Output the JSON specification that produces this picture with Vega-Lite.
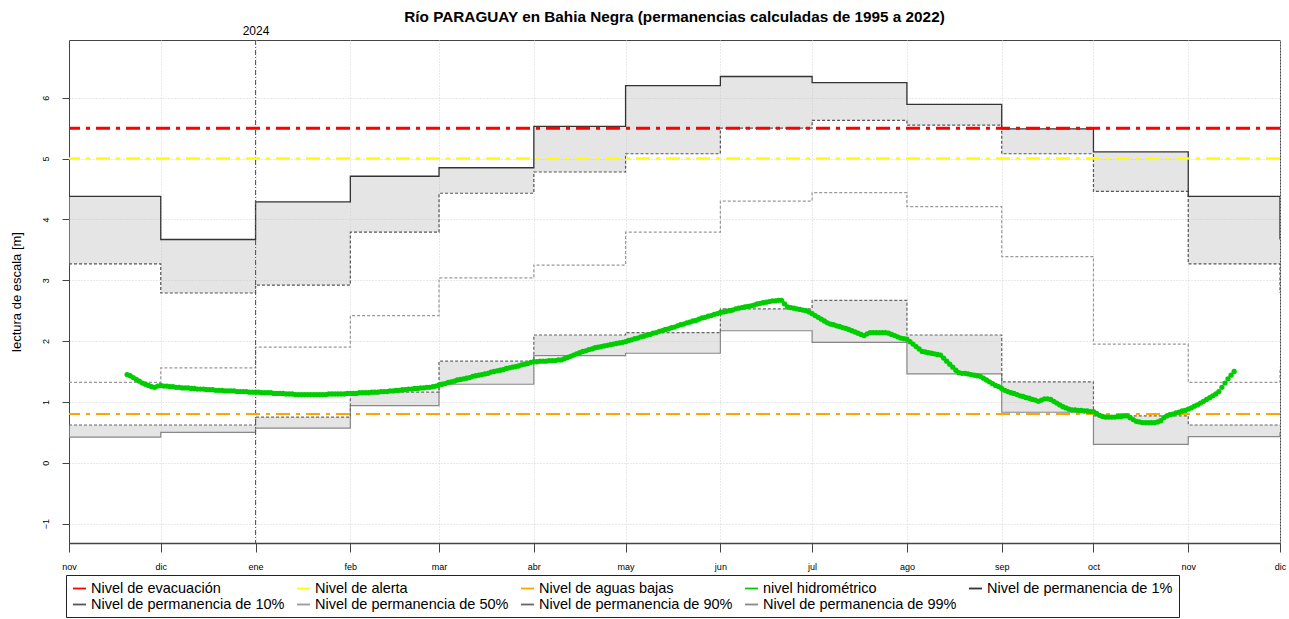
{
  "$schema": "https://vega.github.io/schema/vega-lite/v6.json",
  "width": 1211,
  "height": 503,
  "autosize": {"type": "none"},
  "padding": {"left": 69, "top": 40, "right": 9, "bottom": 76},
  "background": "white",
  "title": {"text": "Río PARAGUAY en Bahia Negra (permanencias calculadas de 1995 a 2022)", "font": "Liberation Sans", "fontSize": 15.3, "fontWeight": "bold", "color": "black", "anchor": "middle", "offset": -1},
  "config": {
    "font": "Liberation Sans",
    "view": {"stroke": "#444444", "strokeWidth": 1},
    "axis": {"labelFont": "Liberation Sans", "titleFont": "Liberation Sans", "labelColor": "black", "titleColor": "black", "tickColor": "#444444", "domainColor": "#444444", "gridColor": "#d3d3d3", "gridDash": [1, 2], "gridWidth": 1}
  },
  "datasets": {
    "perm": [
      {"mes": "2023-11-01", "fin": "2023-12-01", "p1": 4.38, "p10": 3.27, "p50": 1.32, "p90": 0.62, "p99": 0.42},
      {"mes": "2023-12-01", "fin": "2024-01-01", "p1": 3.67, "p10": 2.79, "p50": 1.56, "p90": 0.62, "p99": 0.50},
      {"mes": "2024-01-01", "fin": "2024-02-01", "p1": 4.29, "p10": 2.92, "p50": 1.90, "p90": 0.75, "p99": 0.57},
      {"mes": "2024-02-01", "fin": "2024-03-01", "p1": 4.71, "p10": 3.79, "p50": 2.42, "p90": 1.16, "p99": 0.94},
      {"mes": "2024-03-01", "fin": "2024-04-01", "p1": 4.85, "p10": 4.43, "p50": 3.04, "p90": 1.67, "p99": 1.29},
      {"mes": "2024-04-01", "fin": "2024-05-01", "p1": 5.53, "p10": 4.78, "p50": 3.25, "p90": 2.10, "p99": 1.76},
      {"mes": "2024-05-01", "fin": "2024-06-01", "p1": 6.20, "p10": 5.08, "p50": 3.79, "p90": 2.14, "p99": 1.80},
      {"mes": "2024-06-01", "fin": "2024-07-01", "p1": 6.35, "p10": 5.50, "p50": 4.30, "p90": 2.53, "p99": 2.17},
      {"mes": "2024-07-01", "fin": "2024-08-01", "p1": 6.25, "p10": 5.63, "p50": 4.44, "p90": 2.67, "p99": 1.98},
      {"mes": "2024-08-01", "fin": "2024-09-01", "p1": 5.89, "p10": 5.55, "p50": 4.21, "p90": 2.10, "p99": 1.46},
      {"mes": "2024-09-01", "fin": "2024-10-01", "p1": 5.49, "p10": 5.08, "p50": 3.39, "p90": 1.33, "p99": 0.83},
      {"mes": "2024-10-01", "fin": "2024-11-01", "p1": 5.11, "p10": 4.46, "p50": 1.95, "p90": 0.77, "p99": 0.30},
      {"mes": "2024-11-01", "fin": "2024-12-01", "p1": 4.38, "p10": 3.27, "p50": 1.32, "p90": 0.62, "p99": 0.43},
      {"mes": "2024-12-01", "fin": "2025-01-01", "p1": 3.67, "p10": 2.79, "p50": 1.56, "p90": 0.62, "p99": 0.50}
    ],
    "umbral": [
      {"serie": "Nivel de evacuación", "nivel": 5.5},
      {"serie": "Nivel de alerta", "nivel": 5.0},
      {"serie": "Nivel de aguas bajas", "nivel": 0.8}
    ],
    "anio": [{"fecha": "2024-01-01"}],
    "hidro": [
      {"fecha":"2023-11-20","nivel":1.45},{"fecha":"2023-11-21","nivel":1.43},{"fecha":"2023-11-22","nivel":1.40},{"fecha":"2023-11-23","nivel":1.37},{"fecha":"2023-11-24","nivel":1.34},{"fecha":"2023-11-25","nivel":1.31},{"fecha":"2023-11-26","nivel":1.29},{"fecha":"2023-11-27","nivel":1.27},{"fecha":"2023-11-28","nivel":1.25},{"fecha":"2023-11-29","nivel":1.24},{"fecha":"2023-11-30","nivel":1.26},
      {"fecha":"2023-12-01","nivel":1.27},{"fecha":"2023-12-02","nivel":1.26},{"fecha":"2023-12-03","nivel":1.26},{"fecha":"2023-12-04","nivel":1.25},{"fecha":"2023-12-05","nivel":1.25},{"fecha":"2023-12-06","nivel":1.24},{"fecha":"2023-12-07","nivel":1.24},{"fecha":"2023-12-08","nivel":1.23},{"fecha":"2023-12-09","nivel":1.23},{"fecha":"2023-12-10","nivel":1.23},{"fecha":"2023-12-11","nivel":1.22},{"fecha":"2023-12-12","nivel":1.22},{"fecha":"2023-12-13","nivel":1.21},{"fecha":"2023-12-14","nivel":1.21},{"fecha":"2023-12-15","nivel":1.21},{"fecha":"2023-12-16","nivel":1.20},{"fecha":"2023-12-17","nivel":1.20},{"fecha":"2023-12-18","nivel":1.20},{"fecha":"2023-12-19","nivel":1.19},{"fecha":"2023-12-20","nivel":1.19},{"fecha":"2023-12-21","nivel":1.19},{"fecha":"2023-12-22","nivel":1.18},{"fecha":"2023-12-23","nivel":1.18},{"fecha":"2023-12-24","nivel":1.18},{"fecha":"2023-12-25","nivel":1.18},{"fecha":"2023-12-26","nivel":1.17},{"fecha":"2023-12-27","nivel":1.17},{"fecha":"2023-12-28","nivel":1.17},{"fecha":"2023-12-29","nivel":1.17},{"fecha":"2023-12-30","nivel":1.16},{"fecha":"2023-12-31","nivel":1.16},
      {"fecha":"2024-01-01","nivel":1.16},{"fecha":"2024-01-02","nivel":1.16},{"fecha":"2024-01-03","nivel":1.15},{"fecha":"2024-01-04","nivel":1.15},{"fecha":"2024-01-05","nivel":1.15},{"fecha":"2024-01-06","nivel":1.15},{"fecha":"2024-01-07","nivel":1.14},{"fecha":"2024-01-08","nivel":1.14},{"fecha":"2024-01-09","nivel":1.14},{"fecha":"2024-01-10","nivel":1.14},{"fecha":"2024-01-11","nivel":1.13},{"fecha":"2024-01-12","nivel":1.13},{"fecha":"2024-01-13","nivel":1.13},{"fecha":"2024-01-14","nivel":1.12},{"fecha":"2024-01-15","nivel":1.12},{"fecha":"2024-01-16","nivel":1.12},{"fecha":"2024-01-17","nivel":1.12},{"fecha":"2024-01-18","nivel":1.12},{"fecha":"2024-01-19","nivel":1.12},{"fecha":"2024-01-20","nivel":1.12},{"fecha":"2024-01-21","nivel":1.12},{"fecha":"2024-01-22","nivel":1.12},{"fecha":"2024-01-23","nivel":1.12},{"fecha":"2024-01-24","nivel":1.12},{"fecha":"2024-01-25","nivel":1.13},{"fecha":"2024-01-26","nivel":1.13},{"fecha":"2024-01-27","nivel":1.13},{"fecha":"2024-01-28","nivel":1.13},{"fecha":"2024-01-29","nivel":1.13},{"fecha":"2024-01-30","nivel":1.13},{"fecha":"2024-01-31","nivel":1.14},
      {"fecha":"2024-02-01","nivel":1.14},{"fecha":"2024-02-02","nivel":1.14},{"fecha":"2024-02-03","nivel":1.14},{"fecha":"2024-02-04","nivel":1.15},{"fecha":"2024-02-05","nivel":1.15},{"fecha":"2024-02-06","nivel":1.15},{"fecha":"2024-02-07","nivel":1.15},{"fecha":"2024-02-08","nivel":1.16},{"fecha":"2024-02-09","nivel":1.16},{"fecha":"2024-02-10","nivel":1.16},{"fecha":"2024-02-11","nivel":1.17},{"fecha":"2024-02-12","nivel":1.17},{"fecha":"2024-02-13","nivel":1.17},{"fecha":"2024-02-14","nivel":1.18},{"fecha":"2024-02-15","nivel":1.18},{"fecha":"2024-02-16","nivel":1.19},{"fecha":"2024-02-17","nivel":1.19},{"fecha":"2024-02-18","nivel":1.20},{"fecha":"2024-02-19","nivel":1.20},{"fecha":"2024-02-20","nivel":1.21},{"fecha":"2024-02-21","nivel":1.21},{"fecha":"2024-02-22","nivel":1.22},{"fecha":"2024-02-23","nivel":1.22},{"fecha":"2024-02-24","nivel":1.23},{"fecha":"2024-02-25","nivel":1.23},{"fecha":"2024-02-26","nivel":1.24},{"fecha":"2024-02-27","nivel":1.24},{"fecha":"2024-02-28","nivel":1.25},{"fecha":"2024-02-29","nivel":1.26},
      {"fecha":"2024-03-01","nivel":1.28},{"fecha":"2024-03-02","nivel":1.29},{"fecha":"2024-03-03","nivel":1.30},{"fecha":"2024-03-04","nivel":1.32},{"fecha":"2024-03-05","nivel":1.33},{"fecha":"2024-03-06","nivel":1.34},{"fecha":"2024-03-07","nivel":1.36},{"fecha":"2024-03-08","nivel":1.37},{"fecha":"2024-03-09","nivel":1.38},{"fecha":"2024-03-10","nivel":1.39},{"fecha":"2024-03-11","nivel":1.40},{"fecha":"2024-03-12","nivel":1.42},{"fecha":"2024-03-13","nivel":1.43},{"fecha":"2024-03-14","nivel":1.44},{"fecha":"2024-03-15","nivel":1.45},{"fecha":"2024-03-16","nivel":1.46},{"fecha":"2024-03-17","nivel":1.47},{"fecha":"2024-03-18","nivel":1.49},{"fecha":"2024-03-19","nivel":1.50},{"fecha":"2024-03-20","nivel":1.51},{"fecha":"2024-03-21","nivel":1.52},{"fecha":"2024-03-22","nivel":1.53},{"fecha":"2024-03-23","nivel":1.55},{"fecha":"2024-03-24","nivel":1.56},{"fecha":"2024-03-25","nivel":1.57},{"fecha":"2024-03-26","nivel":1.58},{"fecha":"2024-03-27","nivel":1.59},{"fecha":"2024-03-28","nivel":1.61},{"fecha":"2024-03-29","nivel":1.62},{"fecha":"2024-03-30","nivel":1.63},{"fecha":"2024-03-31","nivel":1.65},
      {"fecha":"2024-04-01","nivel":1.66},{"fecha":"2024-04-02","nivel":1.66},{"fecha":"2024-04-03","nivel":1.67},{"fecha":"2024-04-04","nivel":1.67},{"fecha":"2024-04-05","nivel":1.67},{"fecha":"2024-04-06","nivel":1.68},{"fecha":"2024-04-07","nivel":1.68},{"fecha":"2024-04-08","nivel":1.68},{"fecha":"2024-04-09","nivel":1.69},{"fecha":"2024-04-10","nivel":1.69},{"fecha":"2024-04-11","nivel":1.71},{"fecha":"2024-04-12","nivel":1.73},{"fecha":"2024-04-13","nivel":1.75},{"fecha":"2024-04-14","nivel":1.77},{"fecha":"2024-04-15","nivel":1.79},{"fecha":"2024-04-16","nivel":1.81},{"fecha":"2024-04-17","nivel":1.83},{"fecha":"2024-04-18","nivel":1.84},{"fecha":"2024-04-19","nivel":1.86},{"fecha":"2024-04-20","nivel":1.87},{"fecha":"2024-04-21","nivel":1.89},{"fecha":"2024-04-22","nivel":1.90},{"fecha":"2024-04-23","nivel":1.91},{"fecha":"2024-04-24","nivel":1.92},{"fecha":"2024-04-25","nivel":1.93},{"fecha":"2024-04-26","nivel":1.94},{"fecha":"2024-04-27","nivel":1.95},{"fecha":"2024-04-28","nivel":1.96},{"fecha":"2024-04-29","nivel":1.97},{"fecha":"2024-04-30","nivel":1.98},
      {"fecha":"2024-05-01","nivel":1.99},{"fecha":"2024-05-02","nivel":2.01},{"fecha":"2024-05-03","nivel":2.02},{"fecha":"2024-05-04","nivel":2.04},{"fecha":"2024-05-05","nivel":2.05},{"fecha":"2024-05-06","nivel":2.07},{"fecha":"2024-05-07","nivel":2.08},{"fecha":"2024-05-08","nivel":2.10},{"fecha":"2024-05-09","nivel":2.11},{"fecha":"2024-05-10","nivel":2.13},{"fecha":"2024-05-11","nivel":2.14},{"fecha":"2024-05-12","nivel":2.16},{"fecha":"2024-05-13","nivel":2.17},{"fecha":"2024-05-14","nivel":2.19},{"fecha":"2024-05-15","nivel":2.20},{"fecha":"2024-05-16","nivel":2.22},{"fecha":"2024-05-17","nivel":2.23},{"fecha":"2024-05-18","nivel":2.25},{"fecha":"2024-05-19","nivel":2.27},{"fecha":"2024-05-20","nivel":2.28},{"fecha":"2024-05-21","nivel":2.30},{"fecha":"2024-05-22","nivel":2.31},{"fecha":"2024-05-23","nivel":2.33},{"fecha":"2024-05-24","nivel":2.34},{"fecha":"2024-05-25","nivel":2.36},{"fecha":"2024-05-26","nivel":2.38},{"fecha":"2024-05-27","nivel":2.39},{"fecha":"2024-05-28","nivel":2.41},{"fecha":"2024-05-29","nivel":2.42},{"fecha":"2024-05-30","nivel":2.44},{"fecha":"2024-05-31","nivel":2.45},
      {"fecha":"2024-06-01","nivel":2.47},{"fecha":"2024-06-02","nivel":2.48},{"fecha":"2024-06-03","nivel":2.49},{"fecha":"2024-06-04","nivel":2.50},{"fecha":"2024-06-05","nivel":2.51},{"fecha":"2024-06-06","nivel":2.53},{"fecha":"2024-06-07","nivel":2.54},{"fecha":"2024-06-08","nivel":2.55},{"fecha":"2024-06-09","nivel":2.56},{"fecha":"2024-06-10","nivel":2.57},{"fecha":"2024-06-11","nivel":2.58},{"fecha":"2024-06-12","nivel":2.59},{"fecha":"2024-06-13","nivel":2.61},{"fecha":"2024-06-14","nivel":2.62},{"fecha":"2024-06-15","nivel":2.63},{"fecha":"2024-06-16","nivel":2.64},{"fecha":"2024-06-17","nivel":2.65},{"fecha":"2024-06-18","nivel":2.66},{"fecha":"2024-06-19","nivel":2.66},{"fecha":"2024-06-20","nivel":2.67},{"fecha":"2024-06-21","nivel":2.67},{"fecha":"2024-06-22","nivel":2.61},{"fecha":"2024-06-23","nivel":2.56},{"fecha":"2024-06-24","nivel":2.55},{"fecha":"2024-06-25","nivel":2.54},{"fecha":"2024-06-26","nivel":2.53},{"fecha":"2024-06-27","nivel":2.52},{"fecha":"2024-06-28","nivel":2.51},{"fecha":"2024-06-29","nivel":2.50},{"fecha":"2024-06-30","nivel":2.48},
      {"fecha":"2024-07-01","nivel":2.45},{"fecha":"2024-07-02","nivel":2.42},{"fecha":"2024-07-03","nivel":2.39},{"fecha":"2024-07-04","nivel":2.36},{"fecha":"2024-07-05","nivel":2.33},{"fecha":"2024-07-06","nivel":2.30},{"fecha":"2024-07-07","nivel":2.28},{"fecha":"2024-07-08","nivel":2.27},{"fecha":"2024-07-09","nivel":2.25},{"fecha":"2024-07-10","nivel":2.24},{"fecha":"2024-07-11","nivel":2.22},{"fecha":"2024-07-12","nivel":2.21},{"fecha":"2024-07-13","nivel":2.19},{"fecha":"2024-07-14","nivel":2.17},{"fecha":"2024-07-15","nivel":2.15},{"fecha":"2024-07-16","nivel":2.13},{"fecha":"2024-07-17","nivel":2.11},{"fecha":"2024-07-18","nivel":2.09},{"fecha":"2024-07-19","nivel":2.12},{"fecha":"2024-07-20","nivel":2.14},{"fecha":"2024-07-21","nivel":2.14},{"fecha":"2024-07-22","nivel":2.14},{"fecha":"2024-07-23","nivel":2.14},{"fecha":"2024-07-24","nivel":2.14},{"fecha":"2024-07-25","nivel":2.14},{"fecha":"2024-07-26","nivel":2.13},{"fecha":"2024-07-27","nivel":2.11},{"fecha":"2024-07-28","nivel":2.09},{"fecha":"2024-07-29","nivel":2.07},{"fecha":"2024-07-30","nivel":2.05},{"fecha":"2024-07-31","nivel":2.04},
      {"fecha":"2024-08-01","nivel":2.03},{"fecha":"2024-08-02","nivel":1.99},{"fecha":"2024-08-03","nivel":1.95},{"fecha":"2024-08-04","nivel":1.91},{"fecha":"2024-08-05","nivel":1.87},{"fecha":"2024-08-06","nivel":1.83},{"fecha":"2024-08-07","nivel":1.82},{"fecha":"2024-08-08","nivel":1.81},{"fecha":"2024-08-09","nivel":1.80},{"fecha":"2024-08-10","nivel":1.79},{"fecha":"2024-08-11","nivel":1.78},{"fecha":"2024-08-12","nivel":1.77},{"fecha":"2024-08-13","nivel":1.72},{"fecha":"2024-08-14","nivel":1.67},{"fecha":"2024-08-15","nivel":1.62},{"fecha":"2024-08-16","nivel":1.57},{"fecha":"2024-08-17","nivel":1.52},{"fecha":"2024-08-18","nivel":1.48},{"fecha":"2024-08-19","nivel":1.47},{"fecha":"2024-08-20","nivel":1.47},{"fecha":"2024-08-21","nivel":1.46},{"fecha":"2024-08-22","nivel":1.45},{"fecha":"2024-08-23","nivel":1.44},{"fecha":"2024-08-24","nivel":1.43},{"fecha":"2024-08-25","nivel":1.42},{"fecha":"2024-08-26","nivel":1.39},{"fecha":"2024-08-27","nivel":1.36},{"fecha":"2024-08-28","nivel":1.33},{"fecha":"2024-08-29","nivel":1.30},{"fecha":"2024-08-30","nivel":1.27},{"fecha":"2024-08-31","nivel":1.25},
      {"fecha":"2024-09-01","nivel":1.22},{"fecha":"2024-09-02","nivel":1.19},{"fecha":"2024-09-03","nivel":1.17},{"fecha":"2024-09-04","nivel":1.15},{"fecha":"2024-09-05","nivel":1.14},{"fecha":"2024-09-06","nivel":1.12},{"fecha":"2024-09-07","nivel":1.10},{"fecha":"2024-09-08","nivel":1.09},{"fecha":"2024-09-09","nivel":1.07},{"fecha":"2024-09-10","nivel":1.06},{"fecha":"2024-09-11","nivel":1.04},{"fecha":"2024-09-12","nivel":1.03},{"fecha":"2024-09-13","nivel":1.01},{"fecha":"2024-09-14","nivel":1.03},{"fecha":"2024-09-15","nivel":1.05},{"fecha":"2024-09-16","nivel":1.05},{"fecha":"2024-09-17","nivel":1.04},{"fecha":"2024-09-18","nivel":1.01},{"fecha":"2024-09-19","nivel":0.98},{"fecha":"2024-09-20","nivel":0.95},{"fecha":"2024-09-21","nivel":0.92},{"fecha":"2024-09-22","nivel":0.90},{"fecha":"2024-09-23","nivel":0.88},{"fecha":"2024-09-24","nivel":0.87},{"fecha":"2024-09-25","nivel":0.87},{"fecha":"2024-09-26","nivel":0.86},{"fecha":"2024-09-27","nivel":0.86},{"fecha":"2024-09-28","nivel":0.85},{"fecha":"2024-09-29","nivel":0.85},{"fecha":"2024-09-30","nivel":0.84},
      {"fecha":"2024-10-01","nivel":0.84},{"fecha":"2024-10-02","nivel":0.81},{"fecha":"2024-10-03","nivel":0.78},{"fecha":"2024-10-04","nivel":0.76},{"fecha":"2024-10-05","nivel":0.75},{"fecha":"2024-10-06","nivel":0.75},{"fecha":"2024-10-07","nivel":0.75},{"fecha":"2024-10-08","nivel":0.75},{"fecha":"2024-10-09","nivel":0.76},{"fecha":"2024-10-10","nivel":0.76},{"fecha":"2024-10-11","nivel":0.77},{"fecha":"2024-10-12","nivel":0.77},{"fecha":"2024-10-13","nivel":0.74},{"fecha":"2024-10-14","nivel":0.71},{"fecha":"2024-10-15","nivel":0.68},{"fecha":"2024-10-16","nivel":0.67},{"fecha":"2024-10-17","nivel":0.66},{"fecha":"2024-10-18","nivel":0.66},{"fecha":"2024-10-19","nivel":0.66},{"fecha":"2024-10-20","nivel":0.66},{"fecha":"2024-10-21","nivel":0.66},{"fecha":"2024-10-22","nivel":0.67},{"fecha":"2024-10-23","nivel":0.69},{"fecha":"2024-10-24","nivel":0.74},{"fecha":"2024-10-25","nivel":0.77},{"fecha":"2024-10-26","nivel":0.79},{"fecha":"2024-10-27","nivel":0.80},{"fecha":"2024-10-28","nivel":0.82},{"fecha":"2024-10-29","nivel":0.83},{"fecha":"2024-10-30","nivel":0.85},{"fecha":"2024-10-31","nivel":0.86},
      {"fecha":"2024-11-01","nivel":0.88},{"fecha":"2024-11-02","nivel":0.90},{"fecha":"2024-11-03","nivel":0.93},{"fecha":"2024-11-04","nivel":0.95},{"fecha":"2024-11-05","nivel":0.98},{"fecha":"2024-11-06","nivel":1.01},{"fecha":"2024-11-07","nivel":1.04},{"fecha":"2024-11-08","nivel":1.07},{"fecha":"2024-11-09","nivel":1.10},{"fecha":"2024-11-10","nivel":1.13},{"fecha":"2024-11-11","nivel":1.17},{"fecha":"2024-11-12","nivel":1.24},{"fecha":"2024-11-13","nivel":1.31},{"fecha":"2024-11-14","nivel":1.38},{"fecha":"2024-11-15","nivel":1.44},{"fecha":"2024-11-16","nivel":1.50}
    ]
  },
  "layer": [
    {
      "data": {"name": "perm"},
      "mark": {"type": "rect", "fill": "#bfbfbf", "fillOpacity": 0.4, "clip": true},
      "encoding": {
        "x": {"field": "mes", "type": "temporal",
          "scale": {"type": "utc", "domain": [{"year": 2023, "month": 11, "date": 1, "utc": true}, {"year": 2024, "month": 12, "date": 1, "utc": true}], "nice": false},
          "axis": {"orient": "bottom", "title": null, "grid": true, "tickSize": 9, "labelPadding": 10, "labelFontSize": 9, "domainWidth": 1.5, "labelFlush": false, "labelOverlap": false,
            "values": [{"year": 2023, "month": 11, "date": 1, "utc": true}, {"year": 2023, "month": 12, "date": 1, "utc": true}, {"year": 2024, "month": 1, "date": 1, "utc": true}, {"year": 2024, "month": 2, "date": 1, "utc": true}, {"year": 2024, "month": 3, "date": 1, "utc": true}, {"year": 2024, "month": 4, "date": 1, "utc": true}, {"year": 2024, "month": 5, "date": 1, "utc": true}, {"year": 2024, "month": 6, "date": 1, "utc": true}, {"year": 2024, "month": 7, "date": 1, "utc": true}, {"year": 2024, "month": 8, "date": 1, "utc": true}, {"year": 2024, "month": 9, "date": 1, "utc": true}, {"year": 2024, "month": 10, "date": 1, "utc": true}, {"year": 2024, "month": 11, "date": 1, "utc": true}, {"year": 2024, "month": 12, "date": 1, "utc": true}],
            "labelExpr": "['ene','feb','mar','abr','may','jun','jul','ago','sep','oct','nov','dic'][utcmonth(datum.value)]"}},
        "x2": {"field": "fin"},
        "y": {"field": "p10", "type": "quantitative",
          "scale": {"domain": [-1.32, 6.95], "nice": false, "zero": false},
          "axis": {"title": "lectura de escala [m]", "titleFontSize": 13, "titleFontWeight": "normal", "titlePadding": 18, "values": [-1, 0, 1, 2, 3, 4, 5, 6], "format": "d", "labelAngle": -90, "labelFontSize": 9, "tickSize": 7, "labelPadding": 12, "grid": true}},
        "y2": {"field": "p1"}
      }
    },
    {
      "data": {"name": "perm"},
      "mark": {"type": "rect", "fill": "#bfbfbf", "fillOpacity": 0.4, "clip": true},
      "encoding": {
        "x": {"field": "mes", "type": "temporal", "axis": null},
        "x2": {"field": "fin"},
        "y": {"field": "p99", "type": "quantitative"},
        "y2": {"field": "p90"}
      }
    },
    {
      "data": {"name": "perm"},
      "mark": {"type": "line", "interpolate": "step-after", "strokeWidth": 1.2, "strokeDash": [3, 2], "clip": true},
      "encoding": {
        "x": {"field": "mes", "type": "temporal", "axis": null},
        "y": {"field": "p50", "type": "quantitative"},
        "color": {"datum": "Nivel de permanencia de 50%"}
      }
    },
    {
      "data": {"name": "perm"},
      "mark": {"type": "line", "interpolate": "step-after", "strokeWidth": 1.2, "clip": true},
      "encoding": {
        "x": {"field": "mes", "type": "temporal", "axis": null},
        "y": {"field": "p99", "type": "quantitative"},
        "color": {"datum": "Nivel de permanencia de 99%"}
      }
    },
    {
      "data": {"name": "perm"},
      "mark": {"type": "line", "interpolate": "step-after", "strokeWidth": 1.2, "strokeDash": [3, 2], "clip": true},
      "encoding": {
        "x": {"field": "mes", "type": "temporal", "axis": null},
        "y": {"field": "p90", "type": "quantitative"},
        "color": {"datum": "Nivel de permanencia de 90%"}
      }
    },
    {
      "data": {"name": "perm"},
      "mark": {"type": "line", "interpolate": "step-after", "strokeWidth": 1.2, "strokeDash": [3, 2], "clip": true},
      "encoding": {
        "x": {"field": "mes", "type": "temporal", "axis": null},
        "y": {"field": "p10", "type": "quantitative"},
        "color": {"datum": "Nivel de permanencia de 10%"}
      }
    },
    {
      "data": {"name": "perm"},
      "mark": {"type": "line", "interpolate": "step-after", "strokeWidth": 1.3, "clip": true},
      "encoding": {
        "x": {"field": "mes", "type": "temporal", "axis": null},
        "y": {"field": "p1", "type": "quantitative"},
        "color": {"datum": "Nivel de permanencia de 1%"}
      }
    },
    {
      "data": {"name": "anio"},
      "mark": {"type": "rule", "color": "#555555", "strokeWidth": 1, "strokeDash": [5, 2, 1, 2]},
      "encoding": {
        "x": {"field": "fecha", "type": "temporal",
          "axis": {"orient": "top", "title": null, "grid": false, "ticks": false, "domain": false, "labelFontSize": 12, "labelPadding": 3,
            "values": [{"year": 2024, "month": 1, "date": 1, "utc": true}],
            "labelExpr": "utcFormat(datum.value, '%Y')"}}
      }
    },
    {
      "data": {"name": "umbral"},
      "mark": {"type": "rule", "strokeDash": [14, 6, 4, 6]},
      "encoding": {
        "y": {"field": "nivel", "type": "quantitative"},
        "color": {"field": "serie", "type": "nominal", "title": null},
        "strokeWidth": {"field": "serie", "type": "nominal", "scale": {"domain": ["Nivel de evacuación", "Nivel de alerta", "Nivel de aguas bajas"], "range": [3, 2, 3]}, "legend": null}
      }
    },
    {
      "data": {"name": "hidro"},
      "mark": {"type": "point", "filled": true, "size": 28, "opacity": 1},
      "encoding": {
        "x": {"field": "fecha", "type": "temporal", "axis": null},
        "y": {"field": "nivel", "type": "quantitative"},
        "color": {"datum": "nivel hidrométrico", "title": null,
          "scale": {"domain": ["Nivel de evacuación", "Nivel de alerta", "Nivel de aguas bajas", "nivel hidrométrico", "Nivel de permanencia de 1%", "Nivel de permanencia de 10%", "Nivel de permanencia de 50%", "Nivel de permanencia de 90%", "Nivel de permanencia de 99%"],
            "range": ["#ff0000", "#ffff00", "#ffa500", "#00cd00", "#333333", "#555555", "#999999", "#666666", "#888888"]},
          "legend": {"title": null, "orient": "none", "legendX": -3, "legendY": 535, "direction": "horizontal", "columns": 5,
            "labelFont": "Liberation Sans", "labelFontSize": 14.5, "labelColor": "black", "labelOffset": 4, "labelLimit": 0,
            "symbolType": "stroke", "symbolSize": 169, "symbolStrokeWidth": 1.8,
            "columnPadding": 8, "rowPadding": 1, "padding": 6, "strokeColor": "#222222"}
        }
      }
    }
  ]
}
